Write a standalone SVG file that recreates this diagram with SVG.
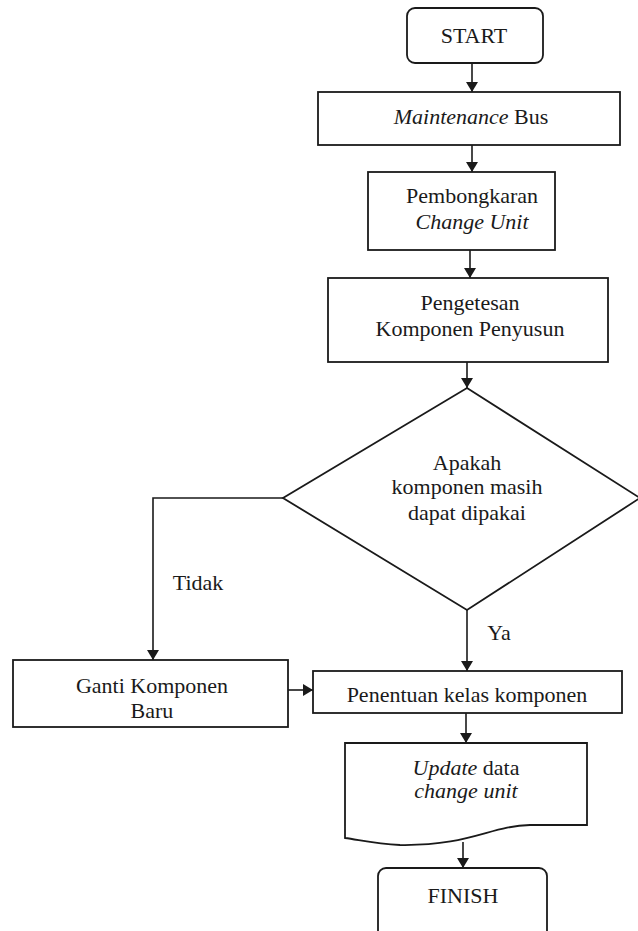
<svg xmlns="http://www.w3.org/2000/svg" width="638" height="931" viewBox="0 0 638 931">
<style>
.s{fill:#fff;stroke:#1a1a1a;stroke-width:1.8}
.c{fill:none;stroke:#1a1a1a;stroke-width:1.6}
text{font-family:"Liberation Serif","Times New Roman",serif;font-size:22px;fill:#1a1a1a;text-anchor:middle}
.i{font-style:italic}
</style>
<defs>
<marker id="a" viewBox="0 0 10 12" refX="10" refY="6" markerWidth="10" markerHeight="12" markerUnits="userSpaceOnUse" orient="auto">
<path d="M0,0 L10,6 L0,12 Z" fill="#1a1a1a"/>
</marker>
</defs>
<rect width="638" height="931" fill="#fff"/>
<g id="connectors">
<path class="c" d="M472,63 V92" marker-end="url(#a)"/>
<path class="c" d="M472,145 V172" marker-end="url(#a)"/>
<path class="c" d="M470,250 V278" marker-end="url(#a)"/>
<path class="c" d="M467,362 V388" marker-end="url(#a)"/>
<path class="c" d="M283,498 H153 V660" marker-end="url(#a)"/>
<path class="c" d="M467,610 V671" marker-end="url(#a)"/>
<path class="c" d="M288,690 H313" marker-end="url(#a)"/>
<path class="c" d="M466,713 V743" marker-end="url(#a)"/>
<path class="c" d="M463,842 V868" marker-end="url(#a)"/>
<text x="198" y="590">Tidak</text>
<text x="499" y="640">Ya</text>
</g>
<g id="start">
<rect class="s" x="407" y="8" width="136" height="55" rx="8"/>
<text x="474" y="43">START</text>
</g>
<g id="maintenance">
<rect class="s" x="318" y="92" width="302" height="53"/>
<text x="471" y="124"><tspan class="i">Maintenance</tspan> Bus</text>
</g>
<g id="pembongkaran">
<rect class="s" x="368" y="172" width="187" height="78"/>
<text x="472" y="203">Pembongkaran</text>
<text x="472" y="229" class="i">Change Unit</text>
</g>
<g id="pengetesan">
<rect class="s" x="328" y="278" width="280" height="84"/>
<text x="470" y="310">Pengetesan</text>
<text x="470" y="336">Komponen Penyusun</text>
</g>
<g id="decision">
<path class="s" d="M467,388 L640,498 L467,610 L283,498 Z"/>
<text x="467" y="470">Apakah</text>
<text x="467" y="494">komponen masih</text>
<text x="467" y="520">dapat dipakai</text>
</g>
<g id="ganti">
<rect class="s" x="13" y="660" width="275" height="67"/>
<text x="152" y="693">Ganti Komponen</text>
<text x="152" y="718">Baru</text>
</g>
<g id="penentuan">
<rect class="s" x="313" y="671" width="309" height="42"/>
<text x="467" y="702">Penentuan kelas komponen</text>
</g>
<g id="update">
<path class="s" d="M345,743 H587 V825 H530 C490,826 470,846 400,845 C375,844 360,840 345,838 Z"/>
<text x="466" y="775"><tspan class="i">Update</tspan> data</text>
<text x="466" y="798" class="i">change unit</text>
</g>
<g id="finish">
<rect class="s" x="378" y="868" width="169" height="80" rx="8"/>
<text x="463" y="903">FINISH</text>
</g>
</svg>
